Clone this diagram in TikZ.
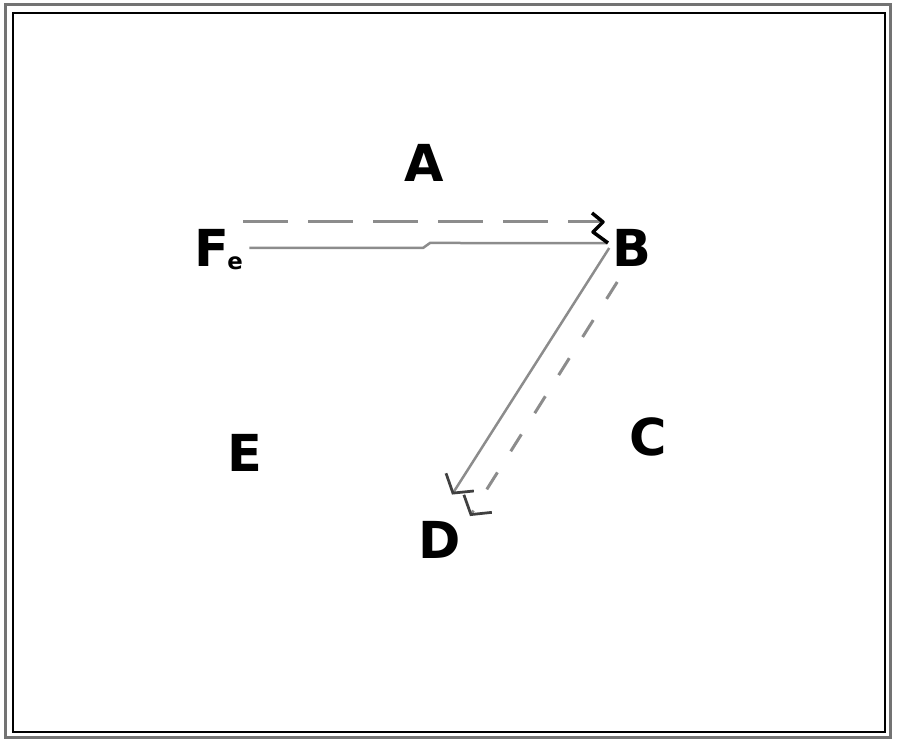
\documentclass[tikz,border=0pt]{standalone}
\usepackage{fontspec}
\setmainfont{DejaVu Sans}
\usepackage{tikz}
\usetikzlibrary{arrows.meta,calc}
\tikzset{
	lbl/.style={font=\fontsize{29}{30}\selectfont\bfseries, inner sep=1mm},
	wire/.style={line width=0.5mm, color=black!45},
	dashwire/.style={line width=0.6mm, color=black!45, dash pattern=on 0.9cm off 0.4cm},
	barb/.style={-{Straight Barb[black!75, length=0.26cm, width=0.66cm, line width=0.55mm]}}
}

\begin{document}
\begin{tikzpicture}
			%%%%% START %%%%%
			
			\useasboundingbox (0, 0) rectangle (18, 14.96);
			
			\draw[line width=0.6mm, color=black!55] (0.1, 0.2) rectangle (17.8, 14.86);
			\draw[line width=0.25mm] (0.26, 0.32) rectangle (17.7, 14.7);
			
			\node[lbl] (A) at (8.48, 11.7) {A};
			\node[lbl, anchor=base west] (F) at (3.78, 9.62) {F\kern-1pt\raisebox{-0.06cm}{\fontsize{13}{13}\selectfont\bfseries e}};
			\node[lbl] (B) at (12.64, 10.0) {B};
			\node[lbl] (C) at (12.96, 6.22) {C};
			\node[lbl] (D) at (8.8, 4.16) {D};
			\node[lbl] (E) at (4.9, 5.9) {E};
			
			\draw[wire] ($(F.east |- B.west)+(0.02, 0)$) -- (8.46, 10.0) -- (8.6, 10.1) -- ([yshift=2.8pt]B.west);
			\draw[dashwire] ($(F.east |- B.west)+(-0.1, 0.52)$) -- ([shift={(-0.15, 0.52)}]B.west);
			\draw[line width=0.7mm, line join=round] (11.84, 10.7) -- (12.06, 10.52) -- (11.86, 10.32) -- (12.16, 10.1);
			
			\draw[wire, barb] ([shift={(0.04, 0)}]B.west) -- ([shift={(0.24, 0.43)}]D.north);
			\draw[dashwire, barb, dash pattern=on 0.4cm off 0.5cm] ([shift={(0.2, -0.68)}]B.west) -- ([shift={(0.6, 0)}]D.north);
			
			%%%%% END %%%%%
\end{tikzpicture}
\end{document}
